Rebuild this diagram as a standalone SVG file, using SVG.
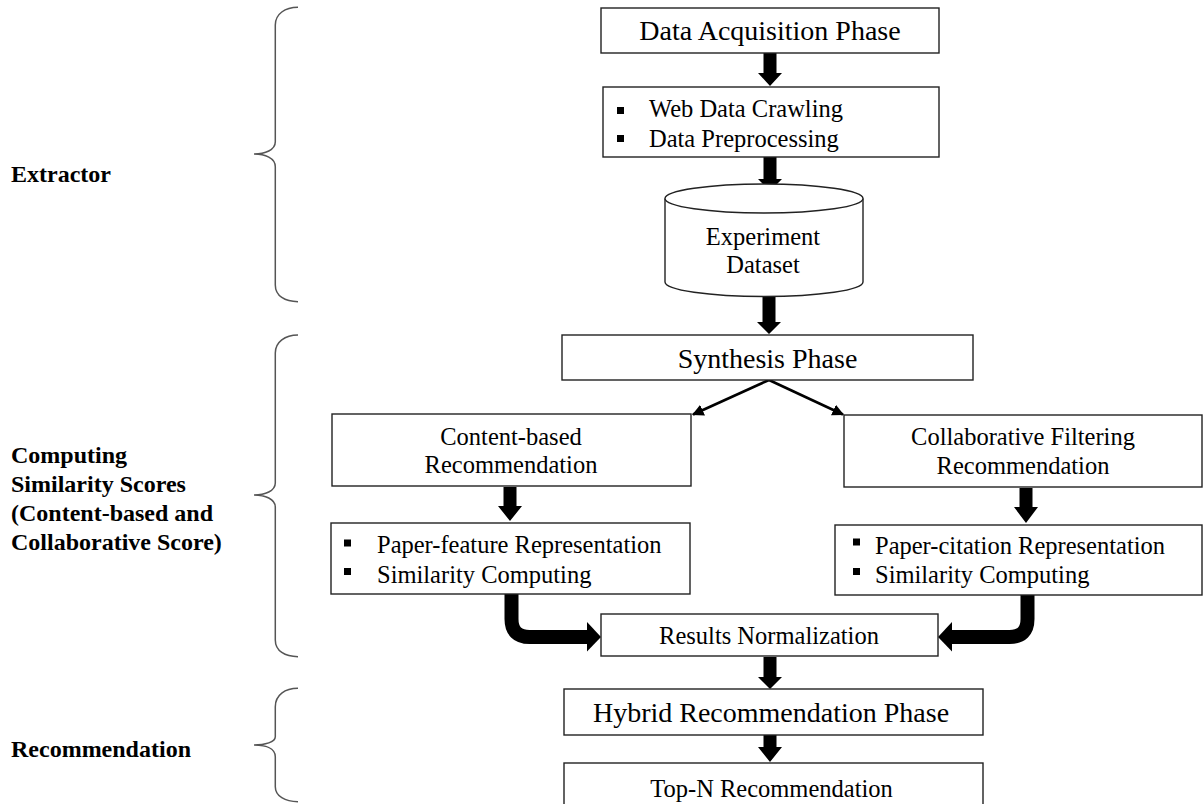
<svg xmlns="http://www.w3.org/2000/svg" width="1204" height="804" viewBox="0 0 1204 804">
<style>
.box{fill:#fff;stroke:#222;stroke-width:1.4}
.t{font-family:"Liberation Serif","Times New Roman",serif;font-size:24.5px;fill:#000}
.tl{font-family:"Liberation Serif","Times New Roman",serif;font-size:28px;fill:#000}
.lbl{font-family:"Liberation Serif","Times New Roman",serif;font-size:24px;font-weight:bold;fill:#000}
.mid{text-anchor:middle}
.brace{fill:none;stroke:#555;stroke-width:1.5}
.blk{fill:#000}
.thin{stroke:#000;stroke-width:2.6;fill:none}
.curve{stroke:#000;stroke-width:14;fill:none}
</style>
<defs>
<marker id="ah" viewBox="0 0 10 10" refX="9" refY="5" markerWidth="4.5" markerHeight="4.5" orient="auto" markerUnits="strokeWidth">
<path d="M0,0 L10,5 L0,10 z" fill="#000"/>
</marker>
</defs>
<rect width="1204" height="804" fill="#fff"/>

<g id="labels">
<path class="brace" d="M298,7.3 C285,7.3 275.3,14 275.3,25 L275.3,141.7 C275.3,150 265,154 254,154 C265,154 275.3,158 275.3,166.7 L275.3,285 C275.3,296 285,301.7 298,301.7"/>
<text class="lbl" x="11" y="181.5">Extractor</text>
<path class="brace" d="M298,335 C285,335 275.3,342 275.3,353 L275.3,483 C275.3,491 265,495 254,495 C265,495 275.3,499 275.3,507 L275.3,640 C275.3,651 285,656.7 298,656.7"/>
<text class="lbl" x="11" y="463">Computing</text>
<text class="lbl" x="11" y="492">Similarity Scores</text>
<text class="lbl" x="11" y="521">(Content-based and</text>
<text class="lbl" x="11" y="550">Collaborative Score)</text>
<path class="brace" d="M298,688.3 C285,688.3 275.3,695 275.3,706.7 L275.3,736.7 C275.3,742 265,745 254,745 C265,745 275.3,748 275.3,756.7 L275.3,786.7 C275.3,796 285,801.7 298,801.7"/>
<text class="lbl" x="11" y="756.5">Recommendation</text>
</g>

<g id="connectors">
<polygon class="blk" points="763.5,53 776.5,53 776.5,73 782,73 770,86 758,73 763.5,73"/>
<polygon class="blk" points="763.5,157 776.5,157 776.5,179 782,179 770,191 758,179 763.5,179"/>
<polygon class="blk" points="762.5,297 775.5,297 775.5,322 781,322 769,334 757,322 762.5,322"/>
<line class="thin" x1="769" y1="380" x2="693" y2="414.5" marker-end="url(#ah)"/>
<line class="thin" x1="769" y1="380" x2="843" y2="414.5" marker-end="url(#ah)"/>
<polygon class="blk" points="503.5,487 516.5,487 516.5,506 522,506 510,521 498,506 503.5,506"/>
<polygon class="blk" points="1019.5,488 1032.5,488 1032.5,507 1038,507 1026,523 1014,507 1019.5,507"/>
<path class="curve" d="M511.5,594 L511.5,619 Q511.5,637 529.5,637 L589,637"/>
<polygon class="blk" points="587,622 601,637 587,651.5"/>
<path class="curve" d="M1027.5,594 L1027.5,619 Q1027.5,637 1009.5,637 L951,637"/>
<polygon class="blk" points="952,622 938,637 952,651.5"/>
<polygon class="blk" points="763.5,657 776.5,657 776.5,677 782,677 770,689 758,677 763.5,677"/>
<polygon class="blk" points="763.5,735 776.5,735 776.5,747 782,747 770,762 758,747 763.5,747"/>
</g>

<g id="data-acquisition">
<rect class="box" x="601" y="8" width="338" height="45"/>
<text class="tl mid" x="770" y="40">Data Acquisition Phase</text>
</g>

<g id="crawling">
<rect class="box" x="603" y="87" width="336" height="70"/>
<rect class="blk" x="617" y="107" width="7" height="7"/>
<rect class="blk" x="617" y="135" width="7" height="7"/>
<text class="t" x="649" y="116.5">Web Data Crawling</text>
<text class="t" x="649" y="146.5">Data Preprocessing</text>
</g>

<g id="dataset">
<path class="box" d="M665,198.5 L665,282 A99,14.5 0 0 0 863,282 L863,198.5"/>
<ellipse class="box" cx="764" cy="198.5" rx="99" ry="14.5"/>
<text class="t mid" x="763" y="245">Experiment</text>
<text class="t mid" x="763" y="273">Dataset</text>
</g>

<g id="synthesis">
<rect class="box" x="562" y="335" width="411" height="45"/>
<text class="tl mid" x="767.5" y="368">Synthesis Phase</text>
</g>

<g id="content-based">
<rect class="box" x="332" y="414" width="359" height="72"/>
<text class="t mid" x="511" y="445">Content-based</text>
<text class="t mid" x="511" y="473">Recommendation</text>
</g>

<g id="collaborative">
<rect class="box" x="844" y="415" width="358" height="72"/>
<text class="t mid" x="1023" y="445">Collaborative Filtering</text>
<text class="t mid" x="1023" y="474">Recommendation</text>
</g>

<g id="paper-feature">
<rect class="box" x="331" y="523" width="359" height="71"/>
<rect class="blk" x="344" y="539.5" width="7" height="7"/>
<rect class="blk" x="344" y="568" width="7" height="7"/>
<text class="t" x="377" y="553">Paper-feature Representation</text>
<text class="t" x="377" y="582.5">Similarity Computing</text>
</g>

<g id="paper-citation">
<rect class="box" x="835" y="525" width="367" height="70"/>
<rect class="blk" x="853" y="538.5" width="7" height="7"/>
<rect class="blk" x="853" y="568" width="7" height="7"/>
<text class="t" x="875" y="553.5">Paper-citation Representation</text>
<text class="t" x="875" y="582.5">Similarity Computing</text>
</g>

<g id="results">
<rect class="box" x="601" y="614" width="337" height="42"/>
<text class="t mid" x="769" y="644">Results Normalization</text>
</g>

<g id="hybrid">
<rect class="box" x="564" y="689" width="419" height="46"/>
<text class="tl mid" x="771" y="721.5">Hybrid Recommendation Phase</text>
</g>

<g id="top-n">
<rect class="box" x="564" y="763" width="419" height="60"/>
<text class="t mid" x="771.5" y="797">Top-N Recommendation</text>
</g>
</svg>
